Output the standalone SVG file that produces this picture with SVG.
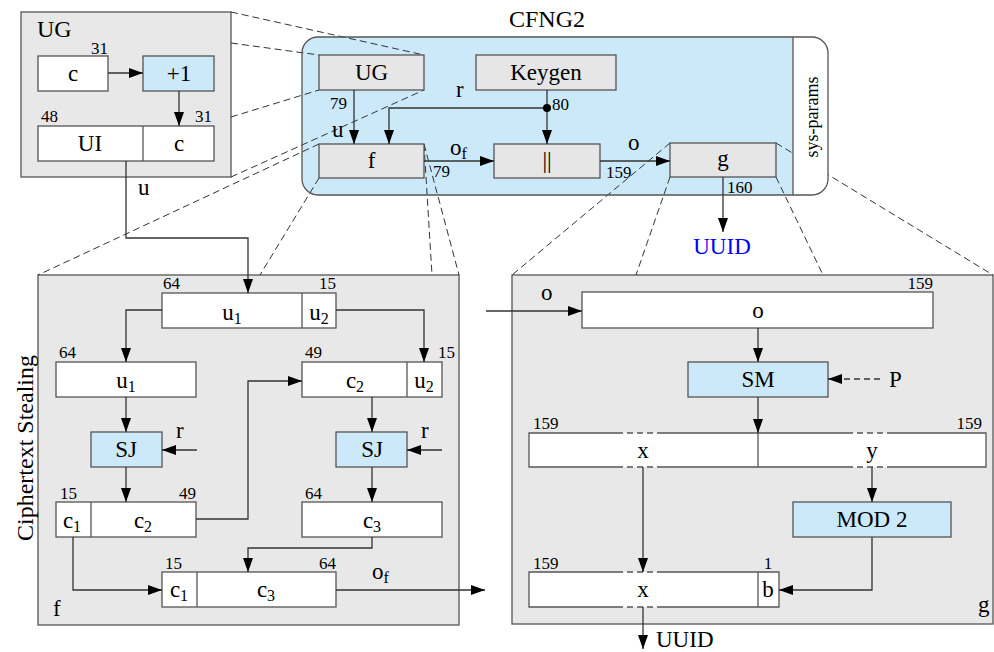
<svg xmlns="http://www.w3.org/2000/svg" width="994" height="652" viewBox="0 0 994 652" font-family="Liberation Serif">
<defs>
<marker id="ah" markerWidth="14" markerHeight="10" refX="14" refY="5" orient="auto" markerUnits="userSpaceOnUse"><path d="M0,0 L14,5 L0,10 z" fill="#000"/></marker>
<style>
.panel{fill:#e8e8e8;stroke:#555;stroke-width:1.3}
.wbox{fill:#fff;stroke:#555;stroke-width:1.3}
.bbox{fill:#cce9f9;stroke:#555;stroke-width:1.3}
.gbox{fill:#e6e6e6;stroke:#555;stroke-width:1.3}
.conn{fill:none;stroke:#333;stroke-width:1.3}
.arr{marker-end:url(#ah)}
.zoom{fill:none;stroke:#333;stroke-width:1;stroke-dasharray:7,4}
.edge{stroke:#555;stroke-width:1.3;fill:none}
.edged{stroke:#555;stroke-width:1.3;fill:none;stroke-dasharray:6,4}
</style>
</defs>
<rect x="0" y="0" width="994" height="652" fill="#fff"/>

<g id="ug-panel">
<rect class="panel" x="21" y="12" width="210" height="165"/>
<text x="37" y="37" font-size="24" font-family="Liberation Serif">UG</text>
</g>
<g id="f-panel">
<rect class="panel" x="38" y="275" width="421" height="350"/>
<text x="53" y="616" font-size="23" font-family="Liberation Serif">f</text>
</g>
<g id="g-panel">
<rect class="panel" x="512" y="275" width="481" height="349"/>
<text x="978" y="612" font-size="23" font-family="Liberation Serif">g</text>
</g>
<g id="cfng2">
<path d="M318,37 H793 V195 H318 A16,16 0 0 1 302,179 V53 A16,16 0 0 1 318,37 Z" fill="#cce9f9"/>
<text x="547" y="27" font-size="24" text-anchor="middle" font-family="Liberation Serif">CFNG2</text>
</g>

<g id="zoom-lines">
<line class="zoom" x1="231" y1="12" x2="424" y2="55"/>
<line class="zoom" x1="231" y1="43" x2="319" y2="55"/>
<line class="zoom" x1="231" y1="117" x2="319" y2="90"/>
<line class="zoom" x1="231" y1="177" x2="424" y2="90"/>
<line class="zoom" x1="319" y1="144" x2="38" y2="275"/>
<line class="zoom" x1="319" y1="178" x2="260" y2="275"/>
<line class="zoom" x1="424" y1="144" x2="432" y2="275"/>
<line class="zoom" x1="424" y1="144" x2="459" y2="275"/>
<line class="zoom" x1="670" y1="143" x2="512" y2="275"/>
<line class="zoom" x1="670" y1="177" x2="636" y2="275"/>
<line class="zoom" x1="776" y1="177" x2="823" y2="275"/>
<line class="zoom" x1="776" y1="143" x2="993" y2="275"/>
</g>

<g id="sys-params">
<path d="M793,37 H812 A16,16 0 0 1 828,53 V179 A16,16 0 0 1 812,195 H793 Z" fill="#fff"/>
<rect x="302" y="37" width="526" height="158" rx="16" ry="16" fill="none" stroke="#555" stroke-width="1.3"/>
<line x1="793" y1="37" x2="793" y2="195" stroke="#555" stroke-width="1.3"/>
<text font-size="18" text-anchor="middle" font-family="Liberation Serif" transform="translate(818,117) rotate(-90)">sys-params</text>
</g>

<g id="ug-c">
<rect class="wbox" x="38" y="56" width="70" height="35"/>
<text x="73" y="81" font-size="23" text-anchor="middle" font-family="Liberation Serif">c</text>
<text x="108" y="54" font-size="17" text-anchor="end" font-family="Liberation Serif">31</text>
</g>
<g id="ug-plus1">
<rect class="bbox" x="143" y="56" width="71" height="35"/>
<text x="179" y="81" font-size="23" text-anchor="middle" font-family="Liberation Serif">+1</text>
</g>
<g id="ug-uic">
<rect class="wbox" x="38" y="126" width="176" height="35"/>
<line class="edge" x1="143" y1="126" x2="143" y2="161"/>
<text x="90" y="151" font-size="23" text-anchor="middle" font-family="Liberation Serif">UI</text>
<text x="179" y="151" font-size="23" text-anchor="middle" font-family="Liberation Serif">c</text>
<text x="41" y="122" font-size="17" font-family="Liberation Serif">48</text>
<text x="212" y="122" font-size="17" text-anchor="end" font-family="Liberation Serif">31</text>
</g>

<g id="n-ug">
<rect class="gbox" x="319" y="55" width="105" height="35"/>
<text x="371.5" y="80" font-size="23" text-anchor="middle" font-family="Liberation Serif">UG</text>
</g>
<g id="n-keygen">
<rect class="gbox" x="476" y="55" width="140" height="35"/>
<text x="546" y="80" font-size="23" text-anchor="middle" font-family="Liberation Serif">Keygen</text>
</g>
<g id="n-f">
<rect class="gbox" x="319" y="144" width="105" height="34"/>
<text x="371.5" y="168" font-size="23" text-anchor="middle" font-family="Liberation Serif">f</text>
</g>
<g id="n-concat">
<rect class="gbox" x="494" y="144" width="106" height="34"/>
<text x="547" y="168" font-size="23" text-anchor="middle" font-family="Liberation Serif">||</text>
</g>
<g id="n-g">
<rect class="gbox" x="670" y="143" width="106" height="34"/>
<text x="723" y="166" font-size="23" text-anchor="middle" font-family="Liberation Serif">g</text>
</g>

<g id="f-u1u2">
<rect class="wbox" x="162" y="293" width="174" height="35"/>
<line class="edge" x1="302" y1="293" x2="302" y2="328"/>
<text x="232" y="320" font-size="23" text-anchor="middle" font-family="Liberation Serif">u<tspan font-size="16" dy="4">1</tspan></text>
<text x="319" y="320" font-size="23" text-anchor="middle" font-family="Liberation Serif">u<tspan font-size="16" dy="4">2</tspan></text>
<text x="163" y="289" font-size="17" font-family="Liberation Serif">64</text>
<text x="336" y="289" font-size="17" text-anchor="end" font-family="Liberation Serif">15</text>
</g>
<g id="f-u1">
<rect class="wbox" x="56" y="362" width="140" height="35"/>
<text x="126" y="388" font-size="23" text-anchor="middle" font-family="Liberation Serif">u<tspan font-size="16" dy="4">1</tspan></text>
<text x="59" y="358" font-size="17" font-family="Liberation Serif">64</text>
</g>
<g id="f-c2u2">
<rect class="wbox" x="302" y="362" width="140" height="35"/>
<line class="edge" x1="407" y1="362" x2="407" y2="397"/>
<text x="355" y="388" font-size="23" text-anchor="middle" font-family="Liberation Serif">c<tspan font-size="16" dy="4">2</tspan></text>
<text x="424" y="388" font-size="23" text-anchor="middle" font-family="Liberation Serif">u<tspan font-size="16" dy="4">2</tspan></text>
<text x="305" y="358" font-size="17" font-family="Liberation Serif">49</text>
<text x="438" y="358" font-size="17" font-family="Liberation Serif">15</text>
</g>
<g id="f-sj1">
<rect class="bbox" x="91" y="432" width="71" height="35"/>
<text x="126" y="457" font-size="23" text-anchor="middle" font-family="Liberation Serif">SJ</text>
<text x="176" y="438" font-size="23" font-family="Liberation Serif">r</text>
</g>
<g id="f-sj2">
<rect class="bbox" x="336" y="432" width="71" height="35"/>
<text x="372" y="457" font-size="23" text-anchor="middle" font-family="Liberation Serif">SJ</text>
<text x="421" y="438" font-size="23" font-family="Liberation Serif">r</text>
</g>
<g id="f-c1c2">
<rect class="wbox" x="56" y="502" width="140" height="35"/>
<line class="edge" x1="91" y1="502" x2="91" y2="537"/>
<text x="72" y="528" font-size="23" text-anchor="middle" font-family="Liberation Serif">c<tspan font-size="16" dy="4">1</tspan></text>
<text x="143" y="528" font-size="23" text-anchor="middle" font-family="Liberation Serif">c<tspan font-size="16" dy="4">2</tspan></text>
<text x="60" y="499" font-size="17" font-family="Liberation Serif">15</text>
<text x="196" y="499" font-size="17" text-anchor="end" font-family="Liberation Serif">49</text>
</g>
<g id="f-c3">
<rect class="wbox" x="302" y="502" width="140" height="35"/>
<text x="372" y="528" font-size="23" text-anchor="middle" font-family="Liberation Serif">c<tspan font-size="16" dy="4">3</tspan></text>
<text x="305" y="499" font-size="17" font-family="Liberation Serif">64</text>
</g>
<g id="f-c1c3">
<rect class="wbox" x="162" y="572" width="174" height="35"/>
<line class="edge" x1="197" y1="572" x2="197" y2="607"/>
<text x="179" y="597" font-size="23" text-anchor="middle" font-family="Liberation Serif">c<tspan font-size="16" dy="4">1</tspan></text>
<text x="266" y="597" font-size="23" text-anchor="middle" font-family="Liberation Serif">c<tspan font-size="16" dy="4">3</tspan></text>
<text x="165" y="569" font-size="17" font-family="Liberation Serif">15</text>
<text x="336" y="569" font-size="17" text-anchor="end" font-family="Liberation Serif">64</text>
</g>

<g id="g-o">
<rect class="wbox" x="582" y="292" width="351" height="36"/>
<text x="758" y="318" font-size="23" text-anchor="middle" font-family="Liberation Serif">o</text>
<text x="933" y="289" font-size="17" text-anchor="end" font-family="Liberation Serif">159</text>
</g>
<g id="g-sm">
<rect class="bbox" x="688" y="362" width="140" height="35"/>
<text x="758" y="387" font-size="23" text-anchor="middle" font-family="Liberation Serif">SM</text>
</g>
<g id="g-p">
<text x="889" y="387" font-size="23" font-family="Liberation Serif">P</text>
</g>
<g id="g-xy">
<rect x="529" y="433" width="457" height="34" fill="#fff"/>
<path class="edge" d="M617,433 H529 V467 H617 M663,433 H847 M892,433 H986 V467 H892 M847,467 H663"/>
<path class="edged" d="M617,433 H663 M847,433 H892 M617,467 H663 M847,467 H892"/>
<line class="edge" x1="758" y1="433" x2="758" y2="467"/>
<text x="643" y="458" font-size="23" text-anchor="middle" font-family="Liberation Serif">x</text>
<text x="872" y="458" font-size="23" text-anchor="middle" font-family="Liberation Serif">y</text>
<text x="533" y="429" font-size="17" font-family="Liberation Serif">159</text>
<text x="982" y="429" font-size="17" text-anchor="end" font-family="Liberation Serif">159</text>
</g>
<g id="g-mod2">
<rect class="bbox" x="793" y="502" width="158" height="35"/>
<text x="872" y="527" font-size="23" text-anchor="middle" font-family="Liberation Serif">MOD 2</text>
</g>
<g id="g-xb">
<rect x="529" y="572" width="250" height="35" fill="#fff"/>
<path class="edge" d="M617,572 H529 V607 H617 M663,572 H779 V607 H663"/>
<path class="edged" d="M617,572 H663 M617,607 H663"/>
<line class="edge" x1="758" y1="572" x2="758" y2="607"/>
<text x="643" y="597" font-size="23" text-anchor="middle" font-family="Liberation Serif">x</text>
<text x="768" y="597" font-size="23" text-anchor="middle" font-family="Liberation Serif">b</text>
<text x="533" y="569" font-size="17" font-family="Liberation Serif">159</text>
<text x="768" y="569" font-size="17" text-anchor="middle" font-family="Liberation Serif">1</text>
</g>

<g id="connectors">
<path class="conn arr" d="M108,73 H143"/>
<path class="conn arr" d="M179,91 V126"/>
<path class="conn arr" d="M126,161 V238 H248 V293"/>
<path class="conn arr" d="M354,90 V144"/>
<path class="conn arr" d="M547,90 V144"/>
<path class="conn arr" d="M547,108 H389 V144"/>
<circle cx="547" cy="108" r="4" fill="#000"/>
<path class="conn arr" d="M424,161 H494"/>
<path class="conn arr" d="M600,161 H670"/>
<path class="conn arr" d="M723,177 V232"/>
<path class="conn arr" d="M162,310 H126 V362"/>
<path class="conn arr" d="M336,310 H424 V362"/>
<path class="conn arr" d="M126,397 V432"/>
<path class="conn arr" d="M197,450 H162"/>
<path class="conn arr" d="M126,467 V502"/>
<path class="conn arr" d="M196,519 H248 V381 H302"/>
<path class="conn arr" d="M372,397 V432"/>
<path class="conn arr" d="M442,450 H407"/>
<path class="conn arr" d="M372,467 V502"/>
<path class="conn arr" d="M372,537 V548 H248 V572"/>
<path class="conn arr" d="M73,537 V590 H162"/>
<path class="conn arr" d="M336,590 H485"/>
<path class="conn arr" d="M486,311 H582"/>
<path class="conn arr" d="M758,328 V362"/>
<path class="conn arr" d="M880,379 H828" stroke-dasharray="6,4"/>
<path class="conn arr" d="M758,397 V433"/>
<path class="conn arr" d="M643,467 V572"/>
<path class="conn arr" d="M872,467 V502"/>
<path class="conn arr" d="M872,537 V590 H779"/>
<path class="conn arr" d="M643,607 V649"/>
</g>

<g id="labels">
<text x="138" y="195" font-size="23" font-family="Liberation Serif">u</text>
<text x="330" y="109" font-size="17" font-family="Liberation Serif">79</text>
<text x="456" y="97" font-size="23" font-family="Liberation Serif">r</text>
<text x="552" y="110" font-size="17" font-family="Liberation Serif">80</text>
<text x="332" y="137" font-size="23" font-family="Liberation Serif">u</text>
<text x="450" y="155" font-size="23" font-family="Liberation Serif">o<tspan font-size="16" dy="4">f</tspan></text>
<text x="433" y="177" font-size="17" font-family="Liberation Serif">79</text>
<text x="628" y="150" font-size="23" font-family="Liberation Serif">o</text>
<text x="606" y="178" font-size="17" font-family="Liberation Serif">159</text>
<text x="727" y="193" font-size="17" font-family="Liberation Serif">160</text>
<text x="722" y="254" font-size="23" text-anchor="middle" fill="#0000ff" font-family="Liberation Serif">UUID</text>
<text x="372" y="579" font-size="23" font-family="Liberation Serif">o<tspan font-size="16" dy="4">f</tspan></text>
<text x="541" y="300" font-size="23" font-family="Liberation Serif">o</text>
<text x="656" y="647" font-size="23" font-family="Liberation Serif">UUID</text>
<text font-size="24" text-anchor="middle" font-family="Liberation Serif" transform="translate(33,448) rotate(-90)">Ciphertext Stealing</text>
</g>
</svg>
